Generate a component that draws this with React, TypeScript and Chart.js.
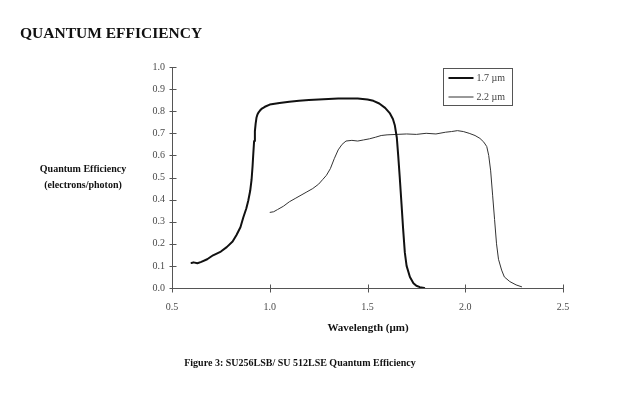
import React, { useEffect, useRef } from "react";
import { Chart, registerables } from "chart.js";

Chart.register(...registerables);

const seriesLabels = ["1.7 µm", "2.2 µm"];

const wl17 = [0.60,0.61,0.63,0.65,0.68,0.71,0.75,0.78,0.81,0.83,0.85,0.865,0.88,0.89,0.90,0.907,0.912,0.916,0.92,0.924,0.928,0.932,0.937,0.943,0.95,0.96,0.975,1.00,1.05,1.10,1.15,1.20,1.25,1.30,1.35,1.40,1.45,1.50,1.53,1.56,1.59,1.615,1.63,1.64,1.65,1.657,1.665,1.674,1.682,1.691,1.70,1.717,1.735,1.75,1.768,1.79];
const qe17 = [0.113,0.116,0.112,0.118,0.13,0.148,0.165,0.185,0.21,0.24,0.275,0.32,0.36,0.395,0.44,0.49,0.55,0.61,0.665,0.71,0.745,0.77,0.785,0.795,0.803,0.812,0.82,0.83,0.837,0.843,0.847,0.851,0.853,0.855,0.857,0.858,0.858,0.853,0.847,0.835,0.815,0.79,0.765,0.735,0.68,0.6,0.5,0.38,0.27,0.16,0.1,0.05,0.022,0.01,0.004,0.0];

const wl22 = [1.00,1.02,1.04,1.07,1.10,1.13,1.16,1.19,1.22,1.25,1.27,1.29,1.31,1.33,1.35,1.37,1.39,1.42,1.45,1.48,1.51,1.54,1.57,1.60,1.65,1.70,1.75,1.80,1.85,1.90,1.93,1.96,1.99,2.02,2.05,2.075,2.095,2.11,2.12,2.13,2.14,2.15,2.16,2.17,2.186,2.2,2.228,2.26,2.29];
const qe22 = [0.342,0.345,0.355,0.37,0.39,0.405,0.42,0.435,0.45,0.47,0.49,0.51,0.54,0.585,0.625,0.65,0.665,0.668,0.665,0.67,0.675,0.682,0.69,0.693,0.695,0.697,0.695,0.70,0.697,0.705,0.708,0.712,0.708,0.70,0.69,0.677,0.66,0.64,0.6,0.53,0.42,0.31,0.2,0.13,0.081,0.05,0.029,0.014,0.005];

const xTicks = [0.5, 1.0, 1.5, 2.0, 2.5];
const yTicks = [0.0, 0.1, 0.2, 0.3, 0.4, 0.5, 0.6, 0.7, 0.8, 0.9, 1.0];

const titleText = "QUANTUM EFFICIENCY";
const yTitleLines = ["Quantum Efficiency", "(electrons/photon)"];
const xTitleText = "Wavelength (µm)";
const captionText = "Figure 3: SU256LSB/ SU 512LSE Quantum Efficiency";

const SERIF = '"Liberation Serif", "Times New Roman", serif';

const crossTicks = {
  id: "crossTicks",
  afterDraw(chart: any) {
    const ctx = chart.ctx;
    const xs = chart.scales.x;
    const ys = chart.scales.y;
    ctx.save();
    ctx.strokeStyle = "#555";
    ctx.lineWidth = 1;
    const ax = Math.round(ys.left + ys.width) + 0.5;
    const ay = Math.round(xs.top) + 0.5;
    for (const v of yTicks) {
      const py = Math.round(ys.getPixelForValue(v)) + 0.5;
      ctx.beginPath();
      ctx.moveTo(ax - 3, py);
      ctx.lineTo(ax + 4, py);
      ctx.stroke();
    }
    for (const v of xTicks) {
      const px = Math.round(xs.getPixelForValue(v)) + 0.5;
      ctx.beginPath();
      ctx.moveTo(px, ay - 4);
      ctx.lineTo(px, ay + 4);
      ctx.stroke();
    }
    ctx.restore();
  },
};

const boxLegend = {
  id: "boxLegend",
  afterDraw(chart: any) {
    const ctx = chart.ctx;
    const area = chart.chartArea;
    const bw = 69;
    const bh = 37;
    const bx = Math.round(area.right - 51 - bw) + 0.5;
    const by = Math.round(area.top + 1) + 0.5;
    ctx.save();
    ctx.fillStyle = "#fff";
    ctx.fillRect(bx, by, bw, bh);
    ctx.strokeStyle = "#555";
    ctx.lineWidth = 1;
    ctx.strokeRect(bx, by, bw, bh);
    ctx.font = `10px ${SERIF}`;
    ctx.textBaseline = "middle";
    chart.data.datasets.forEach((ds: any, i: number) => {
      const ly = by + 9.5 + i * 19;
      ctx.strokeStyle = ds.borderColor;
      ctx.lineWidth = ds.borderWidth;
      ctx.beginPath();
      ctx.moveTo(bx + 5, ly);
      ctx.lineTo(bx + 30, ly);
      ctx.stroke();
      ctx.fillStyle = "#444";
      ctx.fillText(ds.label, bx + 33, ly);
    });
    ctx.restore();
  },
};

export default function App() {
  const canvasRef = useRef<HTMLCanvasElement | null>(null);

  useEffect(() => {
    if (!canvasRef.current) return;
    const chart = new Chart(canvasRef.current, {
      type: "line",
      data: {
        datasets: [
          {
            label: seriesLabels[0],
            data: wl17.map((x, i) => ({ x, y: qe17[i] })),
            borderColor: "#111",
            borderWidth: 2,
            borderJoinStyle: "round",
            borderCapStyle: "round",
            pointRadius: 0,
            tension: 0,
            fill: false,
          },
          {
            label: seriesLabels[1],
            data: wl22.map((x, i) => ({ x, y: qe22[i] })),
            borderColor: "#333",
            borderWidth: 1,
            borderJoinStyle: "round",
            pointRadius: 0,
            tension: 0,
            fill: false,
          },
        ],
      },
      options: {
        animation: false,
        responsive: false,
        maintainAspectRatio: false,
        layout: { padding: { left: 132, right: 55, top: 67, bottom: 78 } },
        plugins: {
          legend: { display: false },
          tooltip: { enabled: false },
          title: { display: false },
        },
        scales: {
          x: {
            type: "linear",
            min: 0.5,
            max: 2.5,
            afterFit: (s: any) => { s.height = 30; },
            afterBuildTicks: (s: any) => { s.ticks = xTicks.map((v) => ({ value: v })); },
            grid: { display: false, drawTicks: false },
            border: { display: true, color: "#555", width: 1 },
            ticks: {
              padding: 13,
              color: "#4a4a4a",
              font: { family: SERIF, size: 10 },
              callback: (v: any) => Number(v).toFixed(1),
              maxRotation: 0,
            },
          },
          y: {
            type: "linear",
            min: 0,
            max: 1,
            afterFit: (s: any) => { s.width = 40; },
            afterBuildTicks: (s: any) => { s.ticks = yTicks.map((v) => ({ value: v })); },
            grid: { display: false, drawTicks: false },
            border: { display: true, color: "#555", width: 1 },
            ticks: {
              padding: 7,
              color: "#4a4a4a",
              font: { family: SERIF, size: 10 },
              callback: (v: any) => Number(v).toFixed(1),
            },
          },
        },
      },
      plugins: [crossTicks, boxLegend],
    });
    return () => chart.destroy();
  }, []);

  const textBase: React.CSSProperties = {
    position: "absolute",
    fontFamily: SERIF,
    fontWeight: "bold",
    color: "#111",
    whiteSpace: "nowrap",
    lineHeight: 1,
  };

  return (
    <div style={{ position: "absolute", left: 0, top: 0, width: 618, height: 396, background: "#fff", overflow: "hidden" }}>
      <canvas ref={canvasRef} width={618} height={396} style={{ position: "absolute", left: 0, top: 0, width: 618, height: 396 }} />
      <div style={{ ...textBase, left: 20, top: 24.5, fontSize: 15.5 }}>{titleText}</div>
      <div style={{ ...textBase, left: 33, top: 161, width: 100, textAlign: "center", fontSize: 10, lineHeight: "16px" }}>
        {yTitleLines.map((l) => (<div key={l}>{l}</div>))}
      </div>
      <div style={{ ...textBase, left: 268, width: 200, textAlign: "center", top: 322, fontSize: 11 }}>{xTitleText}</div>
      <div style={{ ...textBase, left: 150, width: 300, textAlign: "center", top: 357.5, fontSize: 10 }}>{captionText}</div>
    </div>
  );
}
